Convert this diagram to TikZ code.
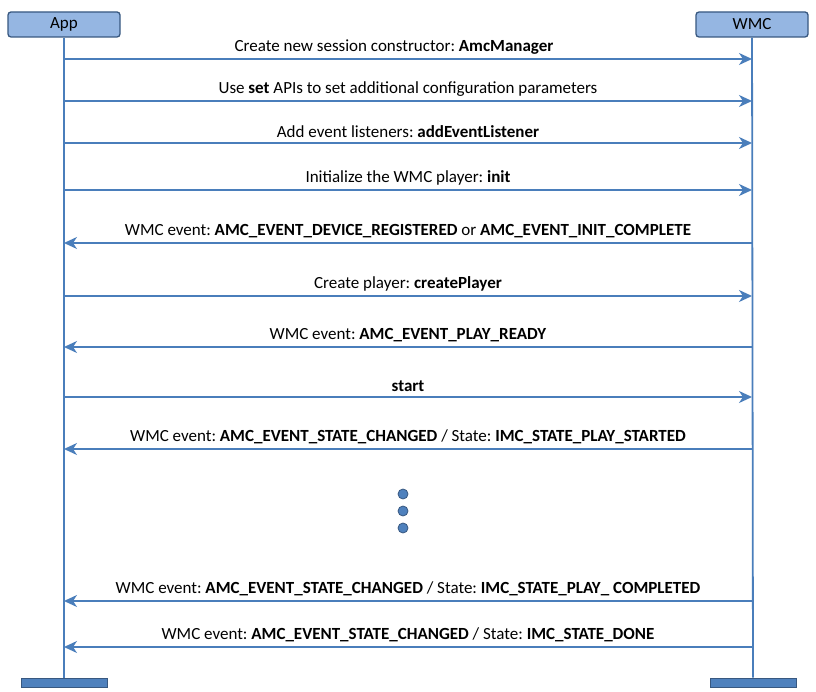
\documentclass[tikz,border=0pt]{standalone}
\usepackage{fontspec}
\setmainfont{Carlito}
\usetikzlibrary{arrows.meta,positioning}
\definecolor{lineblue}{RGB}{74,126,187}
\definecolor{boxblue}{RGB}{149,182,226}
\definecolor{edgeblue}{RGB}{56,88,128}
\definecolor{barblue}{RGB}{79,129,189}
\frenchspacing
\tikzset{
  actor/.style={rectangle, rounded corners=3pt, draw=edgeblue, line width=1.3pt, fill=boxblue,
                minimum width=112pt, minimum height=25pt, font=\fontsize{17}{19}\selectfont},
  endbar/.style={rectangle, draw=edgeblue, line width=1pt, fill=barblue,
                 minimum width=86pt, minimum height=9pt, inner sep=0pt},
  lifeline/.style={line width=1.8pt, lineblue},
  msg/.style={-{Stealth[length=13pt,width=12pt,inset=4pt]}, line width=1.8pt, lineblue},
  msgtext/.style={above=3pt, inner sep=1pt, font=\fontsize{17}{19}\selectfont, text=black},
  dot/.style={circle, draw=edgeblue, line width=0.8pt, fill=barblue, minimum size=10pt, inner sep=0pt},
}
\begin{document}
\begin{tikzpicture}[x=1pt, y=-1pt]
\useasboundingbox (0,0) rectangle (816,692);
\node[actor] (app) at (64,24.5) {App};
\node[actor] (wmc) at (752,24.5) {WMC};
\node[endbar] (append) at (64,682.5) {};
\node[endbar] (wmcend) at (753,682.5) {};
\draw[lifeline] (app) -- (append);
\draw[lifeline] (wmc) -- (wmcend);

% message anchors on the lifelines
\foreach \i/\y in {1/59, 2/101, 3/143, 4/190, 5/243, 6/296, 7/347, 8/397, 9/449, 10/601, 11/647} {
  \coordinate (a\i) at (64,\y);
  \coordinate (w\i) at (752,\y);
}

\draw[msg] (a1) -- node[msgtext, xshift=-14pt] {Create new session constructor: \textbf{AmcManager}} (w1);
\draw[msg] (a2) -- node[msgtext] {Use \textbf{set} APIs to set additional configuration parameters} (w2);
\draw[msg] (a3) -- node[msgtext] {Add event listeners: \textbf{addEventListener}} (w3);
\draw[msg] (a4) -- node[msgtext] {Initialize the WMC player: \textbf{init}} (w4);
\draw[msg] (w5) -- node[msgtext] {WMC event: \textbf{AMC\_EVENT\_DEVICE\_REGISTERED} or \textbf{AMC\_EVENT\_INIT\_COMPLETE}} (a5);
\draw[msg] (a6) -- node[msgtext] {Create player: \textbf{createPlayer}} (w6);
\draw[msg] (w7) -- node[msgtext] {WMC event: \textbf{AMC\_EVENT\_PLAY\_READY}} (a7);
\draw[msg] (a8) -- node[msgtext] {\textbf{start}} (w8);
\draw[msg] (w9) -- node[msgtext] {WMC event: \textbf{AMC\_EVENT\_STATE\_CHANGED} / State: \textbf{IMC\_STATE\_PLAY\_STARTED}} (a9);
\draw[msg] (w10) -- node[msgtext] {WMC event: \textbf{AMC\_EVENT\_STATE\_CHANGED} / State: \textbf{IMC\_STATE\_PLAY\_ COMPLETED}} (a10);
\draw[msg] (w11) -- node[msgtext] {WMC event: \textbf{AMC\_EVENT\_STATE\_CHANGED} / State: \textbf{IMC\_STATE\_DONE}} (a11);

% ellipsis
\node[dot] (d1) at (403,494) {};
\node[dot] (d2) at (403,511) {};
\node[dot] (d3) at (403,528) {};
\end{tikzpicture}
\end{document}
